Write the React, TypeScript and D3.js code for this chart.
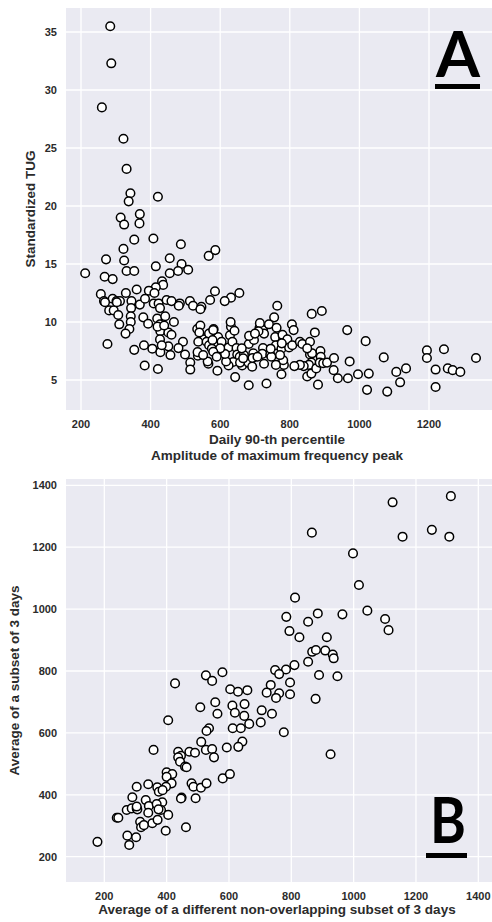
import * as d3 from "d3";
import React, { useEffect, useRef } from "react";

// panel A: daily 90-th percentile vs standardized TUG
const tugAmplitude: number[] = [
  284, 287, 260, 322, 331, 342, 337, 421, 314, 324, 369, 368,
  353, 408, 487, 567, 586, 322, 272, 324, 455, 489, 212, 331, 353, 415, 455, 479, 508, 268, 291, 433, 436, 415, 395, 360, 329, 257, 585, 655, 631, 613, 571,
  266, 291, 302, 312, 345, 369, 384, 409, 423, 427, 446, 460, 484, 513, 522, 546, 543, 344, 281, 294, 269, 303, 411, 481, 764, 755, 863, 892,
  307, 343, 343, 379, 419, 442,
  310, 339, 328, 393, 427, 467, 428, 451, 460, 493, 427, 276, 381, 405, 353, 428, 451, 480, 457, 499, 514, 514, 383, 421, 536, 534, 543, 554, 537, 568, 581, 561, 568, 594, 594, 593, 628, 631, 630, 641, 606, 624, 635, 647, 649, 656, 668, 637, 624, 592, 566, 663, 681, 692, 643, 682, 733,
  682, 697, 713, 723, 740, 726, 723, 695, 721, 726, 693, 707, 744, 747, 762, 758, 760, 745, 776, 781, 779, 783, 776, 793, 806, 811, 798, 807, 829, 836, 858, 872, 858, 864, 862, 855, 840, 850, 862, 881, 876, 888, 889, 886, 896, 907, 927, 926, 938, 965, 972, 967, 996, 1018, 1027, 1022, 1070, 1080, 1106, 1117, 1134, 1194, 1194, 1219, 1219, 1243, 1254, 1268, 1290, 1335,
  420, 439, 432, 535, 540, 564, 576, 578, 580, 714, 710, 683, 700, 604, 662, 777, 850, 829, 813, 781, 760, 617, 657, 772, 614, 600, 580, 551, 666, 590,
];
const tugValue: number[] = [
  35.5, 32.3, 28.5, 25.8, 23.2, 21.1, 20.4, 20.8, 19.0, 18.4, 19.3, 18.5,
  17.1, 17.2, 16.7, 15.7, 16.2, 16.3, 15.4, 15.3, 15.5, 15.0, 14.2, 14.4, 14.4, 14.8, 14.2, 14.4, 14.5, 13.9, 13.7, 13.5, 13.2, 13.0, 12.7, 12.8, 12.5, 12.4, 12.65, 12.5, 12.1, 11.8, 11.9,
  11.8, 12.0, 11.8, 11.8, 11.8, 11.5, 12.0, 11.6, 11.6, 11.2, 11.9, 11.8, 11.6, 11.8, 11.4, 11.3, 11.1, 11.2, 11.0, 11.0, 11.7, 11.7, 12.5, 11.4, 11.4, 10.4, 10.7, 10.95,
  10.6, 10.5, 10.0, 10.4, 10.3, 10.5,
  9.8, 9.4, 9.0, 9.85, 9.8, 10.0, 9.2, 9.1, 8.9, 8.3, 8.5, 8.1, 8.0, 7.7, 7.6, 7.4, 7.9, 7.75, 7.15, 7.2, 6.5, 5.9, 6.25, 5.95, 7.1, 9.4, 9.7, 8.5, 8.3, 9.0, 9.4, 8.3, 8.0, 8.5, 8.7, 7.9, 8.85, 9.6, 10.0, 9.25, 7.45, 7.8, 8.3, 7.75, 7.2, 7.0, 7.15, 6.55, 6.25, 5.8, 6.4, 6.25, 6.5, 6.15, 5.25, 4.55, 4.7,
  8.1, 8.45, 9.5, 9.3, 9.8, 9.0, 7.75, 7.3, 7.25, 6.4, 6.9, 7.0, 7.2, 7.0, 9.5, 8.7, 8.0, 7.7, 7.7, 8.7, 8.9, 6.3, 5.5, 8.5, 9.8, 9.3, 7.8, 8.0, 8.3, 8.1, 8.3, 9.1, 7.2, 7.3, 6.5, 6.3, 6.2, 5.3, 5.55, 4.6, 6.0, 7.5, 7.0, 6.5, 6.45, 6.5, 6.9, 5.85, 5.15, 9.3, 6.6, 5.15, 5.5, 8.35, 5.55, 4.15, 6.95, 4.0, 5.7, 4.8, 6.0, 7.55, 6.9, 5.9, 4.4, 7.65, 6.0, 5.85, 5.7, 6.9,
  9.6, 9.7, 8.0, 7.4, 9.1, 6.6, 7.7, 8.45, 9.3, 9.9, 9.2, 8.8, 9.0, 8.3, 7.73, 8.16, 7.73, 6.3, 6.2, 6.7, 6.3, 6.6, 6.5, 7.15, 7.24, 7.73, 7.44, 7.15, 6.87, 7.0,
];

// panel B: two non-overlapping 3-day subsets
const subsetOther: number[] = [
  1312, 1125, 866, 1251, 1157, 1307, 998,
  1017, 812, 784, 794, 826, 854, 885, 964, 1044, 1101, 1112, 914,
  867, 879, 909, 933, 936, 854, 810, 783, 748, 761, 889, 948, 796, 734, 721, 761, 751, 796, 878, 776, 926,
  579, 526, 546, 427, 604, 629, 659, 508, 556, 611, 650, 619, 563, 649, 705, 738, 702, 665, 612, 638, 536, 528, 405, 643, 630, 593, 511, 526, 546, 358, 437, 473, 491, 446, 552,
  437, 443, 459, 464, 400, 418, 400, 580, 603, 416, 398, 370, 341, 304, 480, 486, 510, 528, 375, 448, 446, 493, 290, 333, 386, 343, 272, 288, 304, 306, 341, 382, 405, 240, 245, 315, 318, 354, 371, 397, 462, 274, 302, 280, 178,
  368, 374, 327, 304, 387,
];
const subsetAvg: number[] = [
  1365, 1345, 1247, 1256, 1234, 1234, 1180,
  1078, 1037, 975, 929, 909, 959, 986, 983, 995, 968, 932, 909,
  862, 868, 866, 853, 841, 830, 819, 805, 803, 790, 787, 783, 763, 755, 730, 728, 713, 725, 710, 602, 531,
  796, 786, 768, 760, 741, 733, 738, 683, 699, 688, 693, 665, 662, 655, 673, 662, 634, 629, 615, 615, 615, 606, 641, 572, 555, 553, 571, 545, 548, 545, 539, 539, 536, 526, 521,
  521, 507, 491, 489, 473, 467, 458, 453, 467, 437, 426, 424, 434, 426, 437, 426, 423, 437, 410, 391, 388, 389, 392, 383, 376, 364, 351, 356, 356, 353, 342, 351, 335, 326, 326, 313, 295, 308, 319, 284, 295, 268, 263, 238, 248,
  370, 353, 302, 362, 415,
];

const xTicksA = [200, 400, 600, 800, 1000, 1200];
const yTicksA = [5, 10, 15, 20, 25, 30, 35];
const ticksB = [200, 400, 600, 800, 1000, 1200, 1400];

const width = 492;
const height = 922;
const labelFont = "'Liberation Sans', Arial, sans-serif";

const App: React.FC = () => {
  const wrapper = useRef<SVGSVGElement>(null);

  useEffect(() => {
    if (!wrapper.current) return;
    const svg = d3.select(wrapper.current);
    svg.selectAll("*").remove();

    const panel = (
      cfg: {
        top: number, bottom: number, left: number, right: number,
        x: d3.ScaleLinear<number, number>, y: d3.ScaleLinear<number, number>,
        xTicks: number[], yTicks: number[],
        xs: number[], ys: number[],
        tickY: number, yLabel: string, yLabelX: number,
        xLabels: Array<[string, number]>,
      }
    ) => {
      const g = svg.append("g");
      g.append("rect")
        .attr("x", cfg.left).attr("y", cfg.top)
        .attr("width", cfg.right - cfg.left).attr("height", cfg.bottom - cfg.top)
        .attr("fill", "#eaeaf2");

      g.selectAll(null).data(cfg.xTicks).enter().append("line")
        .attr("x1", (d) => cfg.x(d)).attr("x2", (d) => cfg.x(d))
        .attr("y1", cfg.top).attr("y2", cfg.bottom)
        .attr("stroke", "#fff").attr("stroke-width", 1.3);
      g.selectAll(null).data(cfg.yTicks).enter().append("line")
        .attr("y1", (d) => cfg.y(d)).attr("y2", (d) => cfg.y(d))
        .attr("x1", cfg.left).attr("x2", cfg.right)
        .attr("stroke", "#fff").attr("stroke-width", 1.3);

      g.selectAll(null).data(cfg.xTicks).enter().append("text")
        .attr("x", (d) => cfg.x(d)).attr("y", cfg.tickY)
        .attr("text-anchor", "middle")
        .style("font", `bold 11px ${labelFont}`).attr("fill", "#2b2b2b")
        .text((d) => d);
      g.selectAll(null).data(cfg.yTicks).enter().append("text")
        .attr("x", 57).attr("y", (d) => cfg.y(d) + 4)
        .attr("text-anchor", "end")
        .style("font", `bold 11px ${labelFont}`).attr("fill", "#2b2b2b")
        .text((d) => d);

      const mid = (cfg.left + cfg.right) / 2;
      cfg.xLabels.forEach(([t, yy]) => {
        g.append("text")
          .attr("x", mid - 4).attr("y", yy)
          .attr("text-anchor", "middle")
          .style("font", `bold 13.5px ${labelFont}`).attr("fill", "#2b2b2b")
          .text(t);
      });
      g.append("text")
        .attr("transform", `translate(${cfg.yLabelX}, ${(cfg.top + cfg.bottom) / 2}) rotate(-90)`)
        .attr("text-anchor", "middle")
        .style("font", `bold 13.5px ${labelFont}`).attr("fill", "#2b2b2b")
        .text(cfg.yLabel);

      g.selectAll(null).data(d3.range(cfg.xs.length)).enter().append("circle")
        .attr("cx", (i) => cfg.x(cfg.xs[i]))
        .attr("cy", (i) => cfg.y(cfg.ys[i]))
        .attr("r", 4.3)
        .attr("fill", "#fff")
        .attr("stroke", "#000")
        .attr("stroke-width", 1.5);
      return g;
    };

    const xA = d3.scaleLinear().domain([200, 1200]).range([81, 429]);
    const yA = d3.scaleLinear().domain([5, 35]).range([380, 32]);
    panel({
      top: 8, bottom: 410, left: 66, right: 496, x: xA, y: yA,
      xTicks: xTicksA, yTicks: yTicksA, xs: tugAmplitude, ys: tugValue,
      tickY: 428, yLabel: "Standardized TUG", yLabelX: 35,
      xLabels: [["Daily 90-th percentile", 444], ["Amplitude of maximum frequency peak", 460]],
    });

    const xB = d3.scaleLinear().domain([200, 1400]).range([104.3, 478.3]);
    const yB = d3.scaleLinear().domain([200, 1400]).range([856.7, 485.3]);
    panel({
      top: 479, bottom: 882, left: 66, right: 496, x: xB, y: yB,
      xTicks: ticksB, yTicks: ticksB, xs: subsetOther, ys: subsetAvg,
      tickY: 900, yLabel: "Average of a subset of 3 days", yLabelX: 19,
      xLabels: [["Average of a different non-overlapping subset of 3 days", 914]],
    });

    // panel letters
    const letter = (t: string, x: number, y: number, w: number, ux: number, uy: number, uw: number) => {
      svg.append("text")
        .attr("x", x).attr("y", y)
        .attr("textLength", w).attr("lengthAdjust", "spacingAndGlyphs")
        .style("font", `bold 64px Lato, ${labelFont}`).attr("fill", "#000")
        .text(t);
      svg.append("rect").attr("x", ux).attr("y", uy).attr("width", uw).attr("height", 5).attr("fill", "#000");
    };
    letter("A", 436, 77, 44, 435, 84, 45);
    letter("B", 430, 843, 36, 426, 853, 41);
  }, []);

  return (
    <svg ref={wrapper} width={width} height={height}
      style={{ position: "absolute", left: 0, top: 0, background: "#fff" }} />
  );
};

export default App;
